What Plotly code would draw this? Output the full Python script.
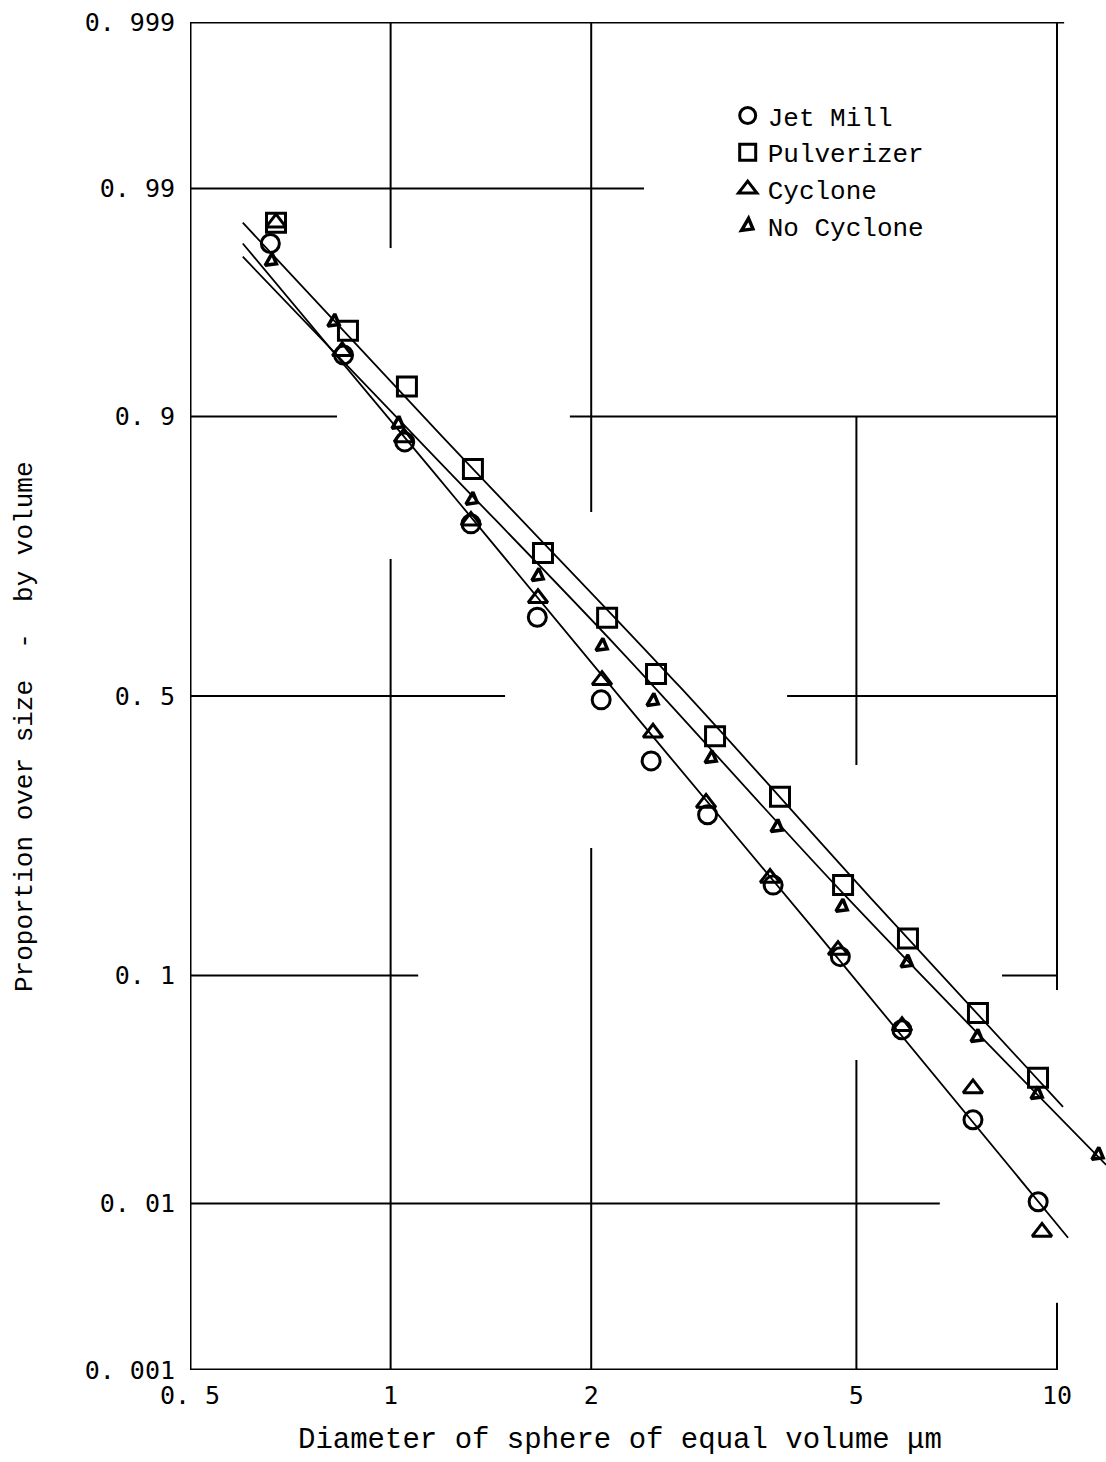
from statistics import NormalDist
import plotly.graph_objects as go

# Proportion oversize (by volume) against equivalent sphere diameter (µm)
jet_mill_d = [0.66, 0.85, 1.05, 1.32, 1.66, 2.07, 2.46, 2.99, 3.75, 4.73, 5.85, 7.48, 9.37]
jet_mill_p = [0.981, 0.941, 0.878, 0.785, 0.641, 0.493, 0.383, 0.293, 0.193, 0.116, 0.063, 0.026, 0.0102]

pulverizer_d = [0.673, 0.863, 1.058, 1.329, 1.693, 2.113, 2.502, 3.068, 3.840, 4.775, 5.975, 7.61, 9.365]
pulverizer_p = [0.985, 0.953, 0.922, 0.851, 0.744, 0.640, 0.540, 0.427, 0.322, 0.193, 0.133, 0.073, 0.040]

cyclone_d = [0.673, 0.846, 1.047, 1.32, 1.664, 2.076, 2.476, 2.974, 3.710, 4.692, 5.854, 7.48, 9.495]
cyclone_p = [0.985, 0.943, 0.882, 0.789, 0.673, 0.529, 0.433, 0.312, 0.202, 0.122, 0.065, 0.036, 0.0070]

no_cyclone_d = [0.662, 0.822, 1.026, 1.325, 1.664, 2.076, 2.476, 3.026, 3.801, 4.758, 5.955, 7.586, 9.333, 11.52]
no_cyclone_p = [0.977, 0.957, 0.894, 0.816, 0.709, 0.591, 0.491, 0.388, 0.274, 0.167, 0.111, 0.059, 0.034, 0.0177]

# Fitted distribution lines
fit_jet_d = [0.600, 1.147, 2.209, 4.409, 10.39]
fit_jet_p = [0.981, 0.852, 0.498, 0.135, 0.0065]
fit_pulv_d = [0.600, 1.186, 2.718, 5.242, 10.21]
fit_pulv_p = [0.985, 0.885, 0.5165, 0.178, 0.0298]
fit_nocyc_d = [0.600, 1.147, 2.209, 4.722, 11.85]
fit_nocyc_p = [0.978, 0.868, 0.5835, 0.187, 0.0158]

# Axis ticks
prob_ticks = [0.001, 0.01, 0.1, 0.5, 0.9, 0.99, 0.999]
prob_tick_text = ["0. 001", "0. 01", "0. 1", "0. 5", "0. 9", "0. 99", "0. 999"]
size_ticks = [0.5, 1, 2, 5, 10]
size_tick_text = ["0. 5", "1", "2", "5", "10"]

ND = NormalDist()


def probit(values):
    return [ND.inv_cdf(v) for v in values]


fig = go.Figure()

# Hand-ruled frame and broken grid of the probability paper
frame_h = [(0.999, 0.5, 10.25), (0.001, 0.5, 10.0)]
frame_v = [(0.5, 0.001, 0.999)]
grid_h = [
    (0.99, 0.49, 2.40),
    (0.9, 0.49, 0.831), (0.9, 1.858, 10.0),
    (0.5, 0.49, 1.485), (0.5, 3.935, 10.0),
    (0.1, 0.49, 1.10), (0.1, 8.27, 10.0),
    (0.01, 0.49, 6.67),
]
grid_v = [
    (1, 0.980, 0.999), (1, 0.00095, 0.735),
    (2, 0.8006, 0.999), (2, 0.00095, 0.243),
    (5, 0.376, 0.9), (5, 0.00095, 0.0476),
    (10, 0.0888, 0.999), (10, 0.00095, 0.0027),
]


def segments(hs, vs):
    xs, ys = [], []
    for p, a, b in hs:
        z = ND.inv_cdf(p)
        xs += [a, b, None]
        ys += [z, z, None]
    for d, a, b in vs:
        xs += [d, d, None]
        ys += [ND.inv_cdf(a), ND.inv_cdf(b), None]
    return xs, ys


fx, fy = segments(frame_h, frame_v)
fig.add_trace(go.Scatter(x=fx, y=fy, mode="lines", line=dict(color="black", width=3),
                         showlegend=False, hoverinfo="skip"))
gx, gy = segments(grid_h, grid_v)
fig.add_trace(go.Scatter(x=gx, y=gy, mode="lines", line=dict(color="black", width=2),
                         showlegend=False, hoverinfo="skip"))

# Fitted lines
for d, p in [(fit_jet_d, fit_jet_p), (fit_pulv_d, fit_pulv_p), (fit_nocyc_d, fit_nocyc_p)]:
    fig.add_trace(go.Scatter(x=d, y=probit(p), mode="lines", line=dict(color="black", width=1.8, shape="spline"),
                             showlegend=False, hoverinfo="skip"))

# Measured points
fig.add_trace(go.Scatter(x=jet_mill_d, y=probit(jet_mill_p), mode="markers", name="Jet Mill",
                         marker=dict(symbol="circle-open", size=18, color="black", line=dict(width=3))))
fig.add_trace(go.Scatter(x=pulverizer_d, y=probit(pulverizer_p), mode="markers", name="Pulverizer",
                         marker=dict(symbol="square-open", size=19, color="black", line=dict(width=3))))
fig.add_trace(go.Scatter(x=cyclone_d, y=probit(cyclone_p), mode="markers", name="Cyclone",
                         marker=dict(symbol="triangle-up-open", size=17, color="black", line=dict(width=3))))
fig.add_trace(go.Scatter(x=no_cyclone_d, y=probit(no_cyclone_p), mode="markers", name="No Cyclone",
                         marker=dict(symbol="triangle-right-open", size=12, angle=30, color="black",
                                     line=dict(width=3.5))))

LEFT, TOP, BOTTOM = 190, 22, 92
W, H = 1106, 1462
PX_PER_DEC = 666.4
x_lo = -0.30103
x_hi = x_lo + (W - LEFT) / PX_PER_DEC
z_top = ND.inv_cdf(0.999)

tick_font = dict(family="DejaVu Sans Mono", size=25, color="black")
mono = "Liberation Mono"

fig.update_layout(
    width=W, height=H,
    margin=dict(l=LEFT, r=0, t=TOP, b=BOTTOM),
    paper_bgcolor="white", plot_bgcolor="white",
    showlegend=True,
    legend=dict(x=0.587, y=0.948, xanchor="left", yanchor="top",
                font=dict(family=mono, size=26, color="black"),
                bgcolor="rgba(0,0,0,0)", itemsizing="trace", tracegroupgap=0),
    xaxis=dict(type="log", range=[x_lo, x_hi], showgrid=False, zeroline=False, showline=False,
               tickvals=size_ticks, ticktext=size_tick_text, tickfont=tick_font,
               ticks="", ticklabelstandoff=8),
    yaxis=dict(range=[-z_top, z_top], showgrid=False, zeroline=False, showline=False,
               tickvals=probit(prob_ticks), ticktext=prob_tick_text, tickfont=tick_font,
               ticks="", ticklabelstandoff=14),
    annotations=[
        dict(text="Proportion over size\u00a0 -\u00a0 by volume", textangle=-90,
             xref="paper", yref="paper", x=(25 - LEFT) / (W - LEFT), y=1 - (727 - TOP) / (H - TOP - BOTTOM),
             xanchor="center", yanchor="middle", showarrow=False,
             font=dict(family=mono, size=26, color="black")),
        dict(text="Diameter of sphere of equal volume \u03bcm",
             xref="paper", yref="paper", x=(620 - LEFT) / (W - LEFT), y=1 - (1440 - TOP) / (H - TOP - BOTTOM),
             xanchor="center", yanchor="middle", showarrow=False,
             font=dict(family=mono, size=29, color="black")),
    ],
)

fig.write_html("out.html")
